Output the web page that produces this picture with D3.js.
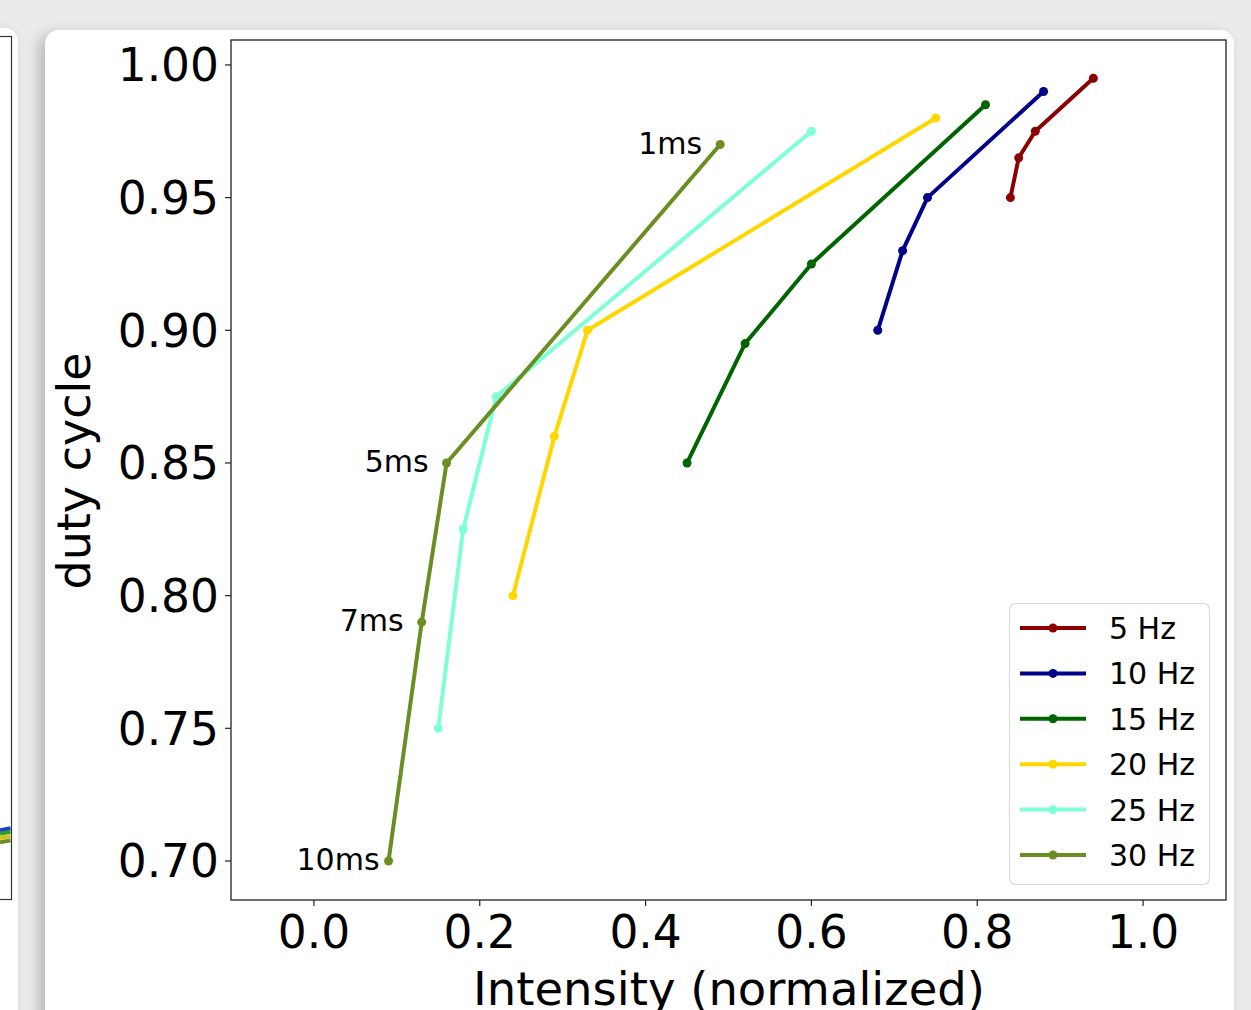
<!DOCTYPE html>
<html>
<head>
<meta charset="utf-8">
<script src="https://cdn.jsdelivr.net/npm/d3@7"></script>
<style>
	html, body { margin: 0; padding: 0; }
	body { width: 1251px; height: 1010px; background: #ebebeb; overflow: hidden; position: relative; font-family: "DejaVu Sans", sans-serif; }
	.card { position: absolute; background: #fff; border-radius: 14px; box-shadow: -6px 4px 14px rgba(0,0,0,0.22); }
	#left-card { left: -400px; top: 28px; width: 418px; height: 1100px; }
	#main-card { left: 45px; top: 30px; width: 1189px; height: 1100px; }
	#chart { position: absolute; left: 0; top: 0; }
</style>
</head>
<body>
<div class="card" id="left-card"></div>
<div class="card" id="main-card"></div>
<div id="chart"></div>
<script>
// series
var seriesNames = ["5 Hz", "10 Hz", "15 Hz", "20 Hz", "25 Hz", "30 Hz"];
var seriesColors = ["#8b0000", "#00008b", "#006400", "#ffd700", "#7fffd4", "#6b8e23"];
var intensity5 = [0.84, 0.85, 0.87, 0.94];
var duty5 = [0.95, 0.965, 0.975, 0.995];
var intensity10 = [0.68, 0.71, 0.74, 0.88];
var duty10 = [0.90, 0.93, 0.95, 0.99];
var intensity15 = [0.45, 0.52, 0.60, 0.81];
var duty15 = [0.85, 0.895, 0.925, 0.985];
var intensity20 = [0.24, 0.29, 0.33, 0.75];
var duty20 = [0.80, 0.86, 0.90, 0.98];
var intensity25 = [0.15, 0.18, 0.22, 0.60];
var duty25 = [0.75, 0.825, 0.875, 0.975];
var intensity30 = [0.09, 0.13, 0.16, 0.49];
var duty30 = [0.70, 0.79, 0.85, 0.97];

// pulse width labels along the 30 Hz curve
var pulseLabels = ["10ms", "7ms", "5ms", "1ms"];

var xTicks = [0.0, 0.2, 0.4, 0.6, 0.8, 1.0];
var yTicks = [0.70, 0.75, 0.80, 0.85, 0.90, 0.95, 1.00];

// edge of the neighbouring panel, only a sliver is visible
var neighborColors = ["#1f3fd0", "#2aa02a", "#d4c21a", "#6b8e23"];
var neighborLevels = [0.083, 0.079, 0.074, 0.069];

(function() {
	var allX = [intensity5, intensity10, intensity15, intensity20, intensity25, intensity30];
	var allY = [duty5, duty10, duty15, duty20, duty25, duty30];

	var width = 1251, height = 1010;
	var plotLeft = 231, plotRight = 1226, plotTop = 40, plotBottom = 900;

	var svg = d3.select("#chart").append("svg")
		.attr("width", width)
		.attr("height", height);

	var x = d3.scaleLinear().domain([-0.1, 1.1]).range([plotLeft, plotRight]);
	var y = d3.scaleLinear().domain([0.6853, 1.0094]).range([plotBottom, plotTop]);

	// neighbour sliver
	svg.append("rect")
		.attr("x", -20).attr("y", 36.5)
		.attr("width", 31.5).attr("height", 863)
		.attr("fill", "none").attr("stroke", "#333").attr("stroke-width", 1.2);
	var ny = d3.scaleLinear().domain([0, 1]).range([900, 36]);
	neighborLevels.forEach(function(v, i) {
		svg.append("line")
			.attr("x1", 0).attr("x2", 10.5)
			.attr("y1", ny(v) + 2).attr("y2", ny(v))
			.attr("stroke", neighborColors[i]).attr("stroke-width", 4);
	});

	// frame
	svg.append("rect")
		.attr("x", plotLeft).attr("y", plotTop)
		.attr("width", plotRight - plotLeft).attr("height", plotBottom - plotTop)
		.attr("fill", "none").attr("stroke", "#222").attr("stroke-width", 1.3);

	// ticks
	var yAxis = svg.append("g");
	yTicks.forEach(function(t) {
		yAxis.append("line")
			.attr("x1", plotLeft - 6).attr("x2", plotLeft)
			.attr("y1", y(t)).attr("y2", y(t))
			.attr("stroke", "#222").attr("stroke-width", 1.2);
		yAxis.append("text")
			.attr("x", plotLeft - 12).attr("y", y(t) + 16.5)
			.attr("text-anchor", "end")
			.attr("font-size", 45.5)
			.attr("fill", "#000")
			.text(d3.format(".2f")(t));
	});

	var xAxis = svg.append("g");
	xTicks.forEach(function(t) {
		xAxis.append("line")
			.attr("x1", x(t)).attr("x2", x(t))
			.attr("y1", plotBottom).attr("y2", plotBottom + 6)
			.attr("stroke", "#222").attr("stroke-width", 1.2);
		xAxis.append("text")
			.attr("x", x(t)).attr("y", 948)
			.attr("text-anchor", "middle")
			.attr("font-size", 45.5)
			.attr("fill", "#000")
			.text(d3.format(".1f")(t));
	});

	svg.append("text")
		.attr("x", (plotLeft + plotRight) / 2 + 0.5).attr("y", 1005)
		.attr("text-anchor", "middle")
		.attr("font-size", 46.5)
		.attr("fill", "#000")
		.text("Intensity (normalized)");

	svg.append("text")
		.attr("transform", "translate(90,471) rotate(-90)")
		.attr("text-anchor", "middle")
		.attr("font-size", 46)
		.attr("fill", "#000")
		.text("duty cycle");

	// lines
	var line = d3.line()
		.x(function(d) { return x(d[0]); })
		.y(function(d) { return y(d[1]); });

	seriesNames.forEach(function(name, i) {
		var pts = allX[i].map(function(v, j) { return [v, allY[i][j]]; });
		var g = svg.append("g");
		g.append("path")
			.datum(pts)
			.attr("d", line)
			.attr("fill", "none")
			.attr("stroke", seriesColors[i])
			.attr("stroke-width", 4)
			.attr("stroke-linejoin", "round");
		g.selectAll("circle")
			.data(pts)
			.enter().append("circle")
			.attr("cx", function(d) { return x(d[0]); })
			.attr("cy", function(d) { return y(d[1]); })
			.attr("r", 4.5)
			.attr("fill", seriesColors[i]);
	});

	// annotations
	pulseLabels.forEach(function(label, j) {
		svg.append("text")
			.attr("x", x(intensity30[j]) - (j === 0 ? 9 : 18))
			.attr("y", y(duty30[j]) + 9)
			.attr("text-anchor", "end")
			.attr("font-size", 30)
			.attr("fill", "#000")
			.text(label);
	});

	// legend
	var legend = svg.append("g");
	legend.append("rect")
		.attr("x", 1009.5).attr("y", 603.5)
		.attr("width", 200).attr("height", 281)
		.attr("rx", 6)
		.attr("fill", "rgba(255,255,255,0.85)")
		.attr("stroke", "#d9d9d9").attr("stroke-width", 1.2);
	seriesNames.forEach(function(name, i) {
		var ly = 628 + i * 45.4;
		legend.append("line")
			.attr("x1", 1020).attr("x2", 1086)
			.attr("y1", ly).attr("y2", ly)
			.attr("stroke", seriesColors[i]).attr("stroke-width", 4);
		legend.append("circle")
			.attr("cx", 1053).attr("cy", ly).attr("r", 4.5)
			.attr("fill", seriesColors[i]);
		legend.append("text")
			.attr("x", 1109).attr("y", ly + 11)
			.attr("font-size", 30)
			.attr("fill", "#000")
			.text(name);
	});
})();
</script>
</body>
</html>
